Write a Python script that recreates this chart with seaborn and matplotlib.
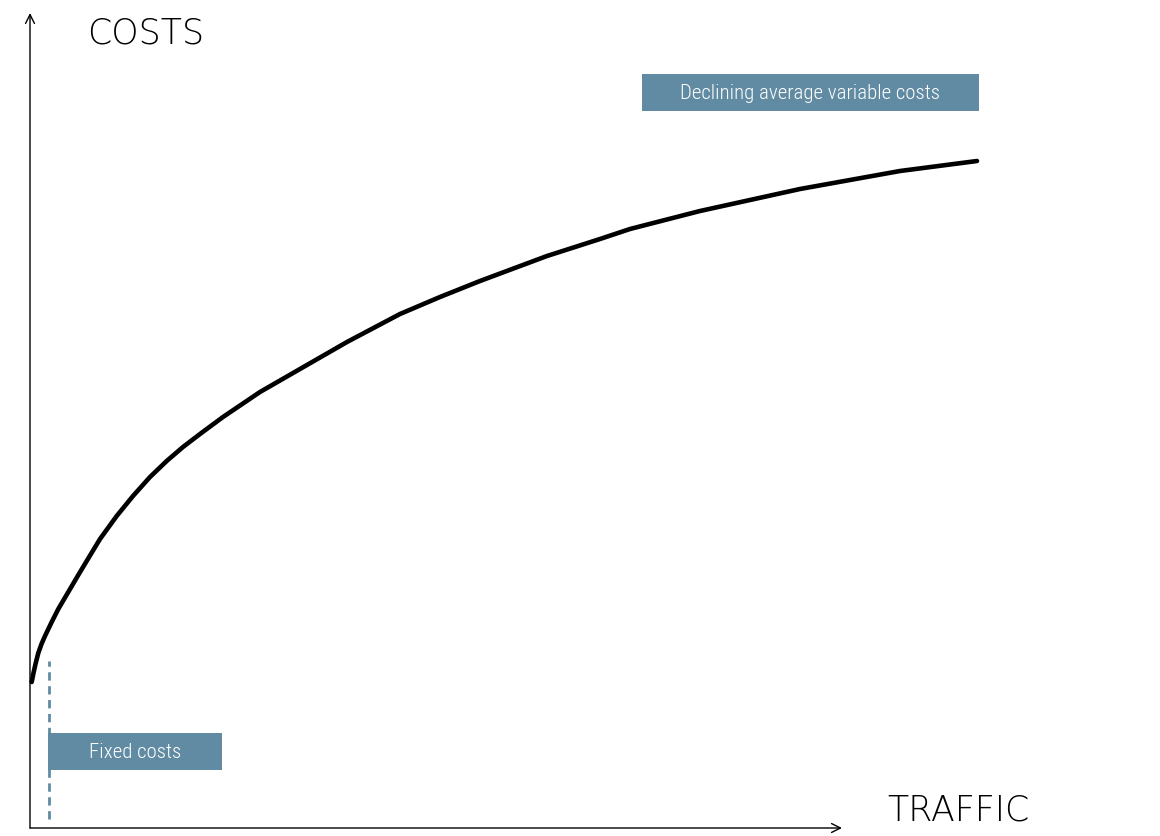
import matplotlib
matplotlib.use("Agg")
import matplotlib.pyplot as plt
from matplotlib.patches import Rectangle
import seaborn as sns
import pandas as pd

# ---- data (units = traffic / cost scale) ----
traffic = [1.7, 3.5, 5.5, 8.3, 11.5, 15, 21.7, 28.3, 38.3, 48.3, 56.7, 70,
           86.7, 103, 120, 136.7, 153, 170, 193, 230, 270, 317, 370, 410,
           450, 517, 570, 600, 670, 770, 870, 947]
costs = [146, 155, 164, 175, 184, 192, 206, 219, 236, 253, 267, 289,
         312, 332, 351, 367, 381, 394, 411, 436, 459, 486, 514, 531,
         547, 572, 589, 599, 617, 639, 657, 667]
y_label = "COSTS"
x_label = "TRAFFIC"
fixed_label = "Fixed costs"
variable_label = "Declining average variable costs"

BOX = "#608ba3"

sns.set_style("white")
plt.rcParams['font.family'] = ['DejaVu Sans']
NARROW = ['Roboto Condensed', 'Roboto', 'DejaVu Sans']

fig = plt.figure(figsize=(11.6, 8.37), dpi=100)
ax = fig.add_axes([0, 0, 1, 1])
ax.set_xlim(-30, 1130)
ax.set_ylim(-8, 829)
ax.axis("off")

df = pd.DataFrame({"traffic": traffic, "costs": costs})
sns.lineplot(data=df, x="traffic", y="costs", ax=ax, sort=False,
             estimator=None, color="black", linewidth=3.3, zorder=5)
ax.lines[-1].set_solid_capstyle("round")
ax.lines[-1].set_solid_joinstyle("round")

# axes arrows
ax.annotate("", xy=(0, 815), xytext=(0, 0),
            arrowprops=dict(arrowstyle="->", lw=1.0, color="black",
                            mutation_scale=16, shrinkA=0, shrinkB=0))
ax.annotate("", xy=(812, 0), xytext=(0, 0),
            arrowprops=dict(arrowstyle="->", lw=1.0, color="black",
                            mutation_scale=16, shrinkA=0, shrinkB=0))

ax.text(57, 796, y_label, fontsize=25, fontweight="light",
        ha="left", va="center", color="black")
ax.text(857, 18, x_label, fontsize=25, fontweight="light",
        ha="left", va="center", color="black")

# fixed cost marker
ax.plot([19, 19], [9, 167], color=BOX, lw=2, ls=(0, (3, 2)), zorder=2)
ax.add_patch(Rectangle((18, 58), 174, 37, color=BOX, zorder=3, lw=0))
ax.text(105.5, 76.5, fixed_label, color="white", fontsize=15,
        family=NARROW, fontweight="light", ha="center", va="center",
        zorder=4)

# variable cost label
ax.add_patch(Rectangle((612, 717), 337, 37, color=BOX, zorder=3, lw=0))
ax.text(780.5, 735.5, variable_label, color="white", fontsize=15,
        family=NARROW, fontweight="light", ha="center", va="center",
        zorder=4)

fig.savefig("out.png", dpi=100)
